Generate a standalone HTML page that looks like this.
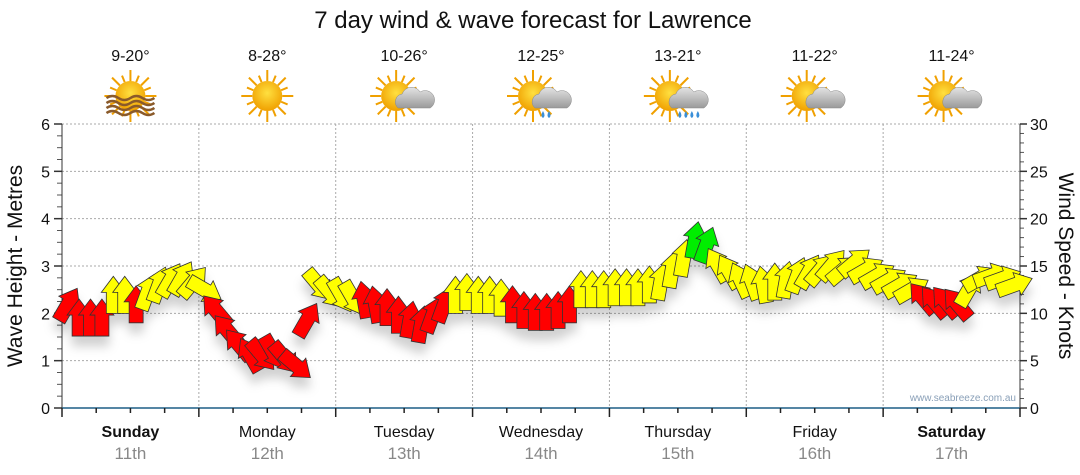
<!DOCTYPE html>
<html><head><meta charset="utf-8"><style>
body{margin:0;background:#fff;}
svg{display:block;font-family:"Liberation Sans",sans-serif;}
</style></head><body>
<svg id="chart" width="1080" height="475" viewBox="0 0 1080 475">
<defs>
<filter id="sh" x="-50%" y="-50%" width="200%" height="250%"><feDropShadow dx="0" dy="10" stdDeviation="5" flood-color="#000" flood-opacity="0.18"/></filter>
<radialGradient id="sun" cx="50%" cy="40%" r="60%"><stop offset="0" stop-color="#ffe040"/><stop offset="1" stop-color="#f0a000"/></radialGradient>
<linearGradient id="cloud" x1="0" y1="0" x2="0" y2="1"><stop offset="0" stop-color="#e4e4e4"/><stop offset="1" stop-color="#9a9a9a"/></linearGradient>
</defs>
<text x="533" y="28" font-size="24" text-anchor="middle" fill="#111">7 day wind &amp; wave forecast for Lawrence</text>
<g id="grid"></g>
<g id="axes"></g>
<g id="icons"></g>
<g id="arrows" filter="url(#sh)"></g>
<text transform="translate(22,266) rotate(-90)" font-size="21" text-anchor="middle" fill="#111">Wave Height - Metres</text>
<text transform="translate(1059,266) rotate(90)" font-size="21" text-anchor="middle" fill="#111">Wind Speed - Knots</text>
<text x="1016" y="401" font-size="10" text-anchor="end" fill="#8aa0b8">www.seabreeze.com.au</text>
</svg>
<script>
const days=["Sunday","Monday","Tuesday","Wednesday","Thursday","Friday","Saturday"];
const dates=["11th","12th","13th","14th","15th","16th","17th"];
const temps=["9-20°","8-28°","10-26°","12-25°","13-21°","11-22°","11-24°"];
const iconTypes=["haze","sun","cloud","rain","storm","cloud","cloud"];
const leftTicks=[0,1,2,3,4,5,6];
const rightTicks=[0,5,10,15,20,25,30];
const windKnots=[10.9,9.5,9.5,9.5,11.9,11.9,10.9,12.2,13.0,13.5,13.7,13.3,
12.5,10.3,8.2,6.7,5.6,5.6,5.9,5.3,4.5,9.3,13.0,12.2,
11.9,11.6,11.4,10.9,10.6,9.8,9.3,8.8,9.8,10.9,11.9,12.2,
11.9,11.9,11.6,10.9,10.3,10.1,10.1,10.3,10.9,12.5,12.5,12.5,
12.7,12.7,12.7,13.0,13.3,14.6,15.8,17.7,17.2,15.1,14.4,13.5,
13.3,13.0,13.3,13.5,14.0,14.4,14.6,15.1,14.6,15.4,14.6,14.0,
13.5,13.0,12.5,11.6,11.2,11.2,11.0,12.5,13.7,14.0,13.7,13.0];
const windDir=[30,0,0,0,0,0,0,20,20,30,30,40,
120,-40,-40,-40,-30,140,150,140,130,30,140,140,
150,150,-10,-10,0,0,10,10,20,20,0,0,
0,0,0,0,0,0,0,0,0,0,0,0,
0,0,0,0,10,10,10,10,20,-30,-30,-25,
-20,-10,0,10,20,30,40,40,50,50,60,60,
60,60,60,-40,-40,-40,-40,30,60,70,70,70];
const windCat=["R","R","R","R","Y","Y","R","Y","Y","Y","Y","Y",
"Y","R","R","R","R","R","R","R","R","R","Y","Y",
"Y","Y","R","R","R","R","R","R","R","R","Y","Y",
"Y","Y","Y","R","R","R","R","R","R","Y","Y","Y",
"Y","Y","Y","Y","Y","Y","Y","G","G","Y","Y","Y",
"Y","Y","Y","Y","Y","Y","Y","Y","Y","Y","Y","Y",
"Y","Y","Y","R","R","R","R","Y","Y","Y","Y","Y"];
const NS="http://www.w3.org/2000/svg";
const X0=62,X1=1020,Y0=408,Y1=124;
const dayW=(X1-X0)/7;
const yM=v=>Y0-(v/6)*(Y0-Y1);
const yK=v=>Y0-(v/30)*(Y0-Y1);
const xT=i=>X0+(i+0.5)*(X1-X0)/windKnots.length;
function mk(t,a,p){const e=document.createElementNS(NS,t);for(const k in a)e.setAttribute(k,a[k]);(p||document.getElementById('chart')).appendChild(e);return e;}
const grid=document.getElementById('grid'),axes=document.getElementById('axes');
leftTicks.forEach(v=>{
 if(v>0){const l=mk('line',{x1:X0,x2:X1,y1:yM(v),y2:yM(v),stroke:'#aaa','stroke-dasharray':'2,2'},grid);
 
 }
 const t=mk('text',{x:50,y:yM(v)+6,'font-size':16,'text-anchor':'end',fill:'#111'},axes);t.textContent=v;
 
 
 mk('line',{x1:X0-8,x2:X0,y1:yM(v),y2:yM(v),stroke:'#333','stroke-width':1.5},axes);
 if(v<6)for(let m=1;m<4;m++)mk('line',{x1:X0-5,x2:X0,y1:yM(v+m/4),y2:yM(v+m/4),stroke:'#555'},axes);
});
rightTicks.forEach(v=>{
 const t=mk('text',{x:1030,y:yK(v)+6,'font-size':16,fill:'#111'},axes);t.textContent=v;
 
 
 mk('line',{x1:X1,x2:X1+7,y1:yK(v),y2:yK(v),stroke:'#333','stroke-width':1.5},axes);
 if(v<30)for(let m=1;m<5;m++)mk('line',{x1:X1,x2:X1+4,y1:yK(v+m),y2:yK(v+m),stroke:'#555'},axes);
});
mk('line',{x1:X0,x2:X0,y1:Y1,y2:Y0,stroke:'#333'},axes);
mk('line',{x1:X1,x2:X1,y1:Y1,y2:Y0,stroke:'#333'},axes);
for(let d=1;d<7;d++){const l=mk('line',{x1:X0+d*dayW,x2:X0+d*dayW,y1:Y1,y2:Y0,stroke:'#aaa','stroke-dasharray':'2,2'},grid);
 
 }
mk('line',{x1:X0,x2:X1,y1:Y0,y2:Y0,stroke:'#1d5f86','stroke-width':1.5},axes);
for(let q=0;q<=28;q++){const x=X0+q*dayW/4;mk('line',{x1:x,x2:x,y1:Y0,y2:Y0+(q%4?5:9),stroke:'#222','stroke-width':1.5},axes);}
days.forEach((d,i)=>{
 const cx=X0+(i+0.5)*dayW;
 const t=mk('text',{x:cx,y:437,'font-size':16,'text-anchor':'middle',fill:'#111','font-weight':(i==0||i==6)?'bold':'normal'},axes);t.textContent=d;
 
 
 const t2=mk('text',{x:cx,y:459,'font-size':17,'text-anchor':'middle',fill:'#888'},axes);t2.textContent=dates[i];
 
 
 const t3=mk('text',{x:cx,y:61,'font-size':16,'text-anchor':'middle',fill:'#111'},axes);t3.textContent=temps[i];
 
 
 const g=mk('g',{transform:`translate(${cx},96)`},document.getElementById('icons'));
 
 
 const type=iconTypes[i];
 const sx=type=='sun'||type=='haze'?0:-8;
 for(let r=0;r<16;r++){const a=r*Math.PI/8;mk('line',{x1:sx+Math.cos(a)*15,y1:Math.sin(a)*15,x2:sx+Math.cos(a)*(r%2?22:26),y2:Math.sin(a)*(r%2?22:26),stroke:'#f0a000','stroke-width':2},g);}
 mk('circle',{cx:sx,cy:0,r:15,fill:'url(#sun)'},g);
 if(type=='haze'){for(let k=0;k<4;k++)mk('path',{d:`M-24 ${2+k*5} q6 -4 12 0 t12 0 t12 0 t12 0`,fill:'none',stroke:'#8a5a2a','stroke-width':2.5},g);}
 if(type!='sun'&&type!='haze'){
  mk('path',{d:'M-6 12 a8 8 0 0 1 4 -14 a10 10 0 0 1 18 -2 a8 8 0 0 1 10 16 z',fill:'url(#cloud)',stroke:'#888','stroke-width':0.5},g);
  if(type=='rain'||type=='storm'){const n=type=='storm'?4:2;for(let k=0;k<n;k++)mk('path',{d:`M${2+k*6} 15 q-3 5 0 7 q3 -2 0 -7z`,fill:'#3a8fd8'},g);}
 }
});
const colors={R:'#ff0000',Y:'#ffff00',G:'#00ee00'};
const ag=document.getElementById('arrows');
windKnots.forEach((k,i)=>{
 const p=mk('path',{d:'M-7 18 L7 18 L7 -3 L12 -3 L0 -19 L-12 -3 L-7 -3 Z',fill:colors[windCat[i]],stroke:'#333','stroke-width':0.8,
  transform:`translate(${xT(i)},${yK(k)}) rotate(${windDir[i]})`},ag);
 
 
});
</script>
</body></html>
